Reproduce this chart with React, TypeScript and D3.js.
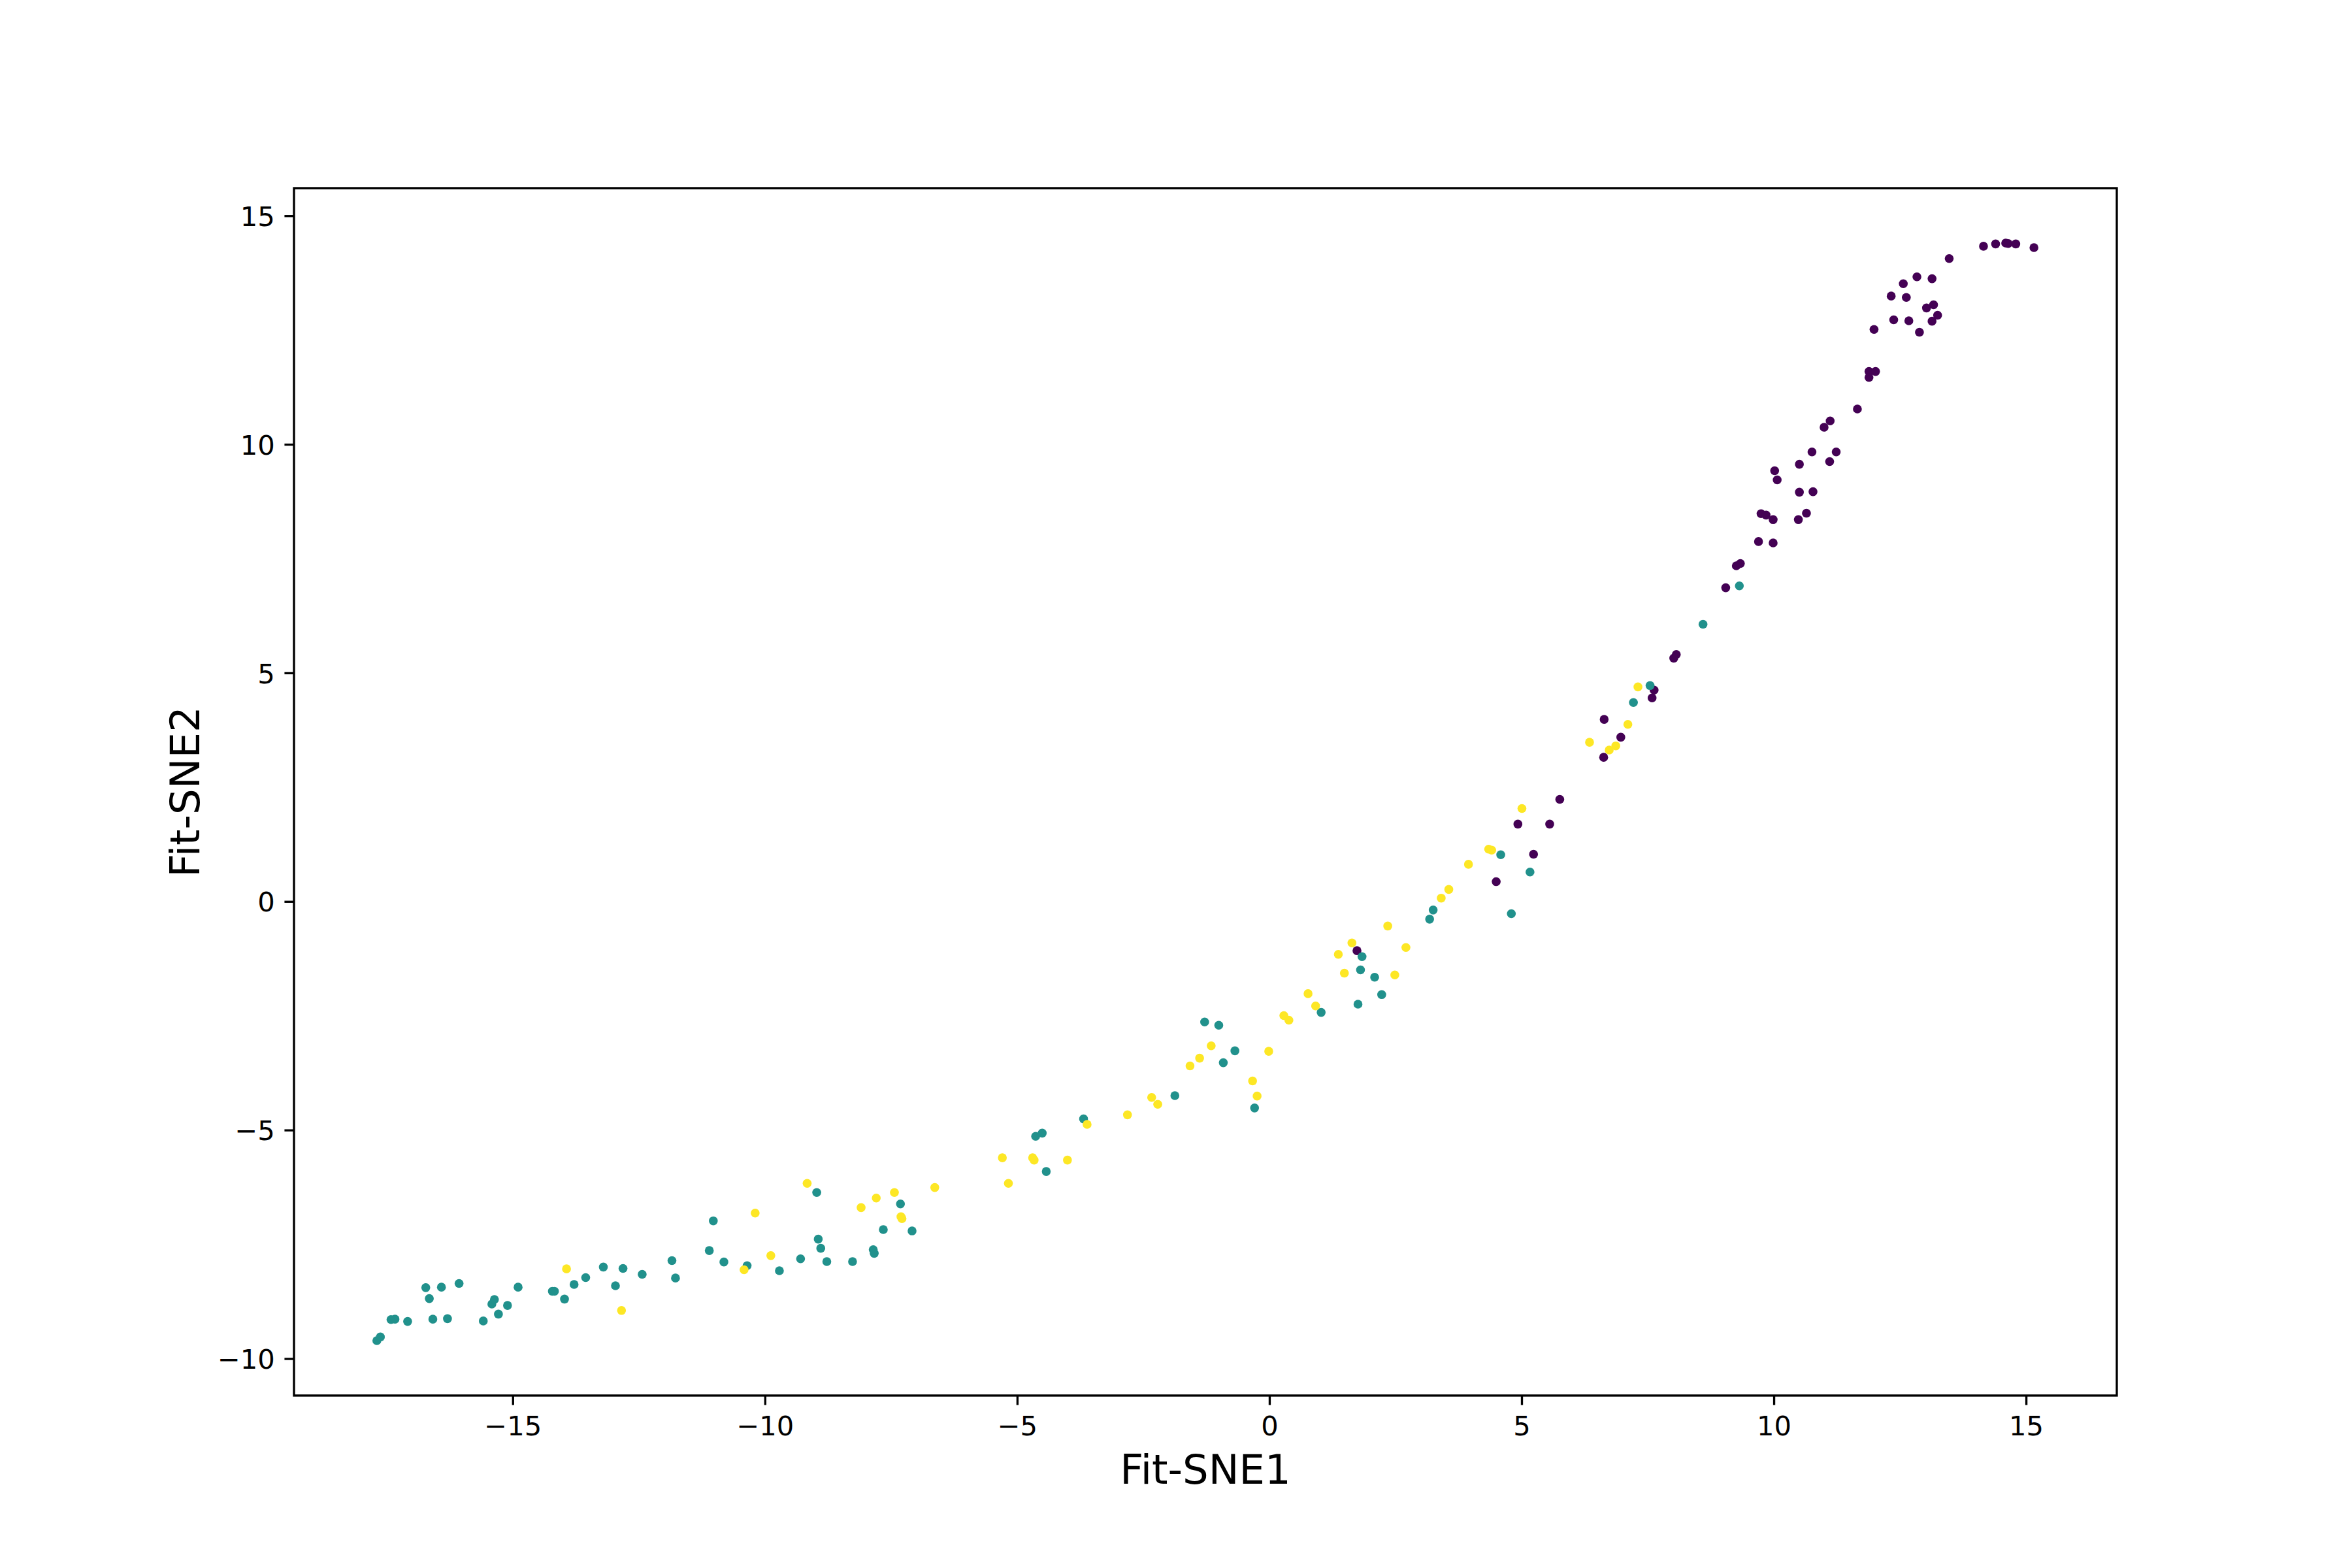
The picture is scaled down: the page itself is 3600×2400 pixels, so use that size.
import React from 'react';
import * as d3 from 'd3';

// Fit-SNE embedding, one array per class
const class0Points: [number, number][] = [
  [4.92, 1.70], [5.55, 1.70], [5.23, 1.04], [4.49, 0.44], [1.73, -1.07],
  [9.25, 7.35], [9.33, 7.40], [9.04, 6.87], [8.06, 5.41], [8.01, 5.33],
  [7.62, 4.63], [7.58, 4.46], [6.63, 3.99], [6.96, 3.60], [6.62, 3.16], [5.75, 2.24],
  [14.15, 14.34], [14.39, 14.39], [14.59, 14.41], [14.64, 14.40], [14.79, 14.39],
  [15.15, 14.31], [13.47, 14.07], [12.83, 13.67], [13.13, 13.63], [12.56, 13.52],
  [12.32, 13.25], [12.62, 13.22], [13.02, 12.99], [13.16, 13.06], [13.24, 12.83],
  [13.13, 12.70], [12.37, 12.73], [12.67, 12.71], [12.88, 12.46], [11.98, 12.52],
  [11.88, 11.60], [12.01, 11.60], [11.88, 11.47], [11.65, 10.78], [11.11, 10.52],
  [10.99, 10.38], [10.75, 9.84], [11.23, 9.84], [11.10, 9.63], [10.50, 9.57],
  [10.01, 9.43], [10.06, 9.23], [10.50, 8.96], [10.77, 8.97], [9.74, 8.49],
  [9.84, 8.46], [9.98, 8.36], [10.64, 8.50], [10.48, 8.36], [9.69, 7.88], [9.98, 7.85],
];

const class1Points: [number, number][] = [
  [-17.70, -9.60], [-17.63, -9.52], [-17.42, -9.14], [-17.34, -9.13], [-17.09, -9.18],
  [-16.73, -8.44], [-16.42, -8.43], [-16.66, -8.68], [-16.07, -8.35], [-16.59, -9.13],
  [-16.30, -9.12], [-15.59, -9.17], [-15.42, -8.80], [-15.37, -8.70], [-15.29, -9.02],
  [-15.11, -8.83], [-14.90, -8.43], [-14.22, -8.52], [-14.18, -8.52], [-13.98, -8.69],
  [-13.79, -8.37], [-13.56, -8.22], [-13.21, -7.99], [-12.82, -8.02], [-12.97, -8.40],
  [-12.44, -8.15], [-11.85, -7.85], [-11.78, -8.23], [-11.11, -7.63], [-11.03, -6.98],
  [-10.82, -7.88], [-10.36, -7.96], [-9.72, -8.07], [-9.30, -7.81], [-8.95, -7.38],
  [-8.90, -7.58], [-8.98, -6.36],
  [-7.32, -6.61], [-7.66, -7.17], [-7.09, -7.20], [-8.78, -7.87], [-8.27, -7.87],
  [-7.86, -7.61], [-7.84, -7.69], [-4.64, -5.13], [-4.51, -5.06], [-4.43, -5.90],
  [-3.69, -4.75], [-1.88, -4.24], [-0.30, -4.51],
  [4.58, 1.03], [5.16, 0.65], [4.79, -0.26], [3.24, -0.18], [3.17, -0.38],
  [1.83, -1.20], [1.80, -1.49], [2.08, -1.65], [2.22, -2.03], [1.75, -2.24],
  [1.02, -2.42], [-1.29, -2.63], [-1.01, -2.70], [-0.69, -3.26], [-0.92, -3.52],
  [9.31, 6.91], [8.59, 6.07], [7.54, 4.73], [7.21, 4.36],
];

const class2Points: [number, number][] = [
  [-13.94, -8.03], [-12.85, -8.94], [-10.42, -8.05], [-10.20, -6.81], [-9.89, -7.74],
  [-9.17, -6.16],
  [-8.10, -6.69], [-7.80, -6.48], [-7.44, -6.36], [-7.31, -6.89], [-7.29, -6.93],
  [-6.64, -6.25], [-5.30, -5.60], [-5.18, -6.16], [-4.70, -5.60], [-4.67, -5.65],
  [-4.01, -5.65], [-3.62, -4.87], [-2.82, -4.66], [-2.34, -4.28], [-2.22, -4.43],
  [-0.34, -3.92], [-0.25, -4.25],
  [4.34, 1.15], [4.40, 1.13], [3.94, 0.82], [3.55, 0.27], [3.40, 0.08],
  [2.34, -0.53], [2.70, -1.00], [1.63, -0.90], [1.36, -1.15], [1.48, -1.56],
  [2.48, -1.60], [0.76, -2.01], [0.91, -2.28], [0.28, -2.49], [0.38, -2.59],
  [-1.16, -3.15], [-1.39, -3.42], [-1.58, -3.59], [-0.02, -3.27],
  [7.30, 4.70], [7.10, 3.88], [6.34, 3.49], [6.86, 3.41], [6.73, 3.32], [5.00, 2.04],
];

const classColors = ['#440154', '#21918c', '#fde725'];
const xTicks = [-15, -10, -5, 0, 5, 10, 15];
const yTicks = [-10, -5, 0, 5, 10, 15];
const xLabel = 'Fit-SNE1';
const yLabel = 'Fit-SNE2';

const W = 3600;
const H = 2400;
const M = { left: 450, right: 3240, top: 288, bottom: 2136 };
const FONT = '"DejaVu Sans", sans-serif';
const LW = 3.333;
const TICK = 14.58;
const PAD = 14.58;
const TICK_FS = 41.67;
const LABEL_FS = 62.5;

function fmt(v: number) {
  return v < 0 ? '\u2212' + Math.abs(v) : String(v);
}

export default function App() {
  const all = [...class0Points, ...class1Points, ...class2Points];
  const [x0, x1] = d3.extent(all, (d) => d[0]) as [number, number];
  const [y0, y1] = d3.extent(all, (d) => d[1]) as [number, number];
  const mx = (x1 - x0) * 0.05;
  const my = (y1 - y0) * 0.05;
  const x = d3.scaleLinear().domain([x0 - mx, x1 + mx]).range([M.left, M.right]);
  const y = d3.scaleLinear().domain([y0 - my, y1 + my]).range([M.bottom, M.top]);

  const groups = [class0Points, class1Points, class2Points];

  return (
    <svg
      width={W}
      height={H}
      viewBox={`0 0 ${W} ${H}`}
      style={{ position: 'absolute', left: 0, top: 0, display: 'block', background: '#fff' }}
    >
      <rect x={0} y={0} width={W} height={H} fill="#fff" />
      {groups.map((pts, gi) => (
        <g key={gi} fill={classColors[gi]}>
          {pts.map((d, i) => (
            <circle key={i} cx={x(d[0])} cy={y(d[1])} r={6.8} />
          ))}
        </g>
      ))}
      <rect
        x={M.left}
        y={M.top}
        width={M.right - M.left}
        height={M.bottom - M.top}
        fill="none"
        stroke="#000"
        strokeWidth={LW}
      />
      {xTicks.map((t) => (
        <g key={'x' + t}>
          <line x1={x(t)} x2={x(t)} y1={M.bottom} y2={M.bottom + TICK} stroke="#000" strokeWidth={LW} />
          <text
            x={x(t)}
            y={M.bottom + TICK + PAD + TICK_FS * 0.76}
            textAnchor="middle"
            fontFamily={FONT}
            fontSize={TICK_FS}
            fill="#000"
          >
            {fmt(t)}
          </text>
        </g>
      ))}
      {yTicks.map((t) => (
        <g key={'y' + t}>
          <line x1={M.left - TICK} x2={M.left} y1={y(t)} y2={y(t)} stroke="#000" strokeWidth={LW} />
          <text
            x={M.left - TICK - PAD}
            y={y(t) + TICK_FS * 0.3645}
            textAnchor="end"
            fontFamily={FONT}
            fontSize={TICK_FS}
            fill="#000"
          >
            {fmt(t)}
          </text>
        </g>
      ))}
      <text
        x={(M.left + M.right) / 2}
        y={2271}
        textAnchor="middle"
        fontFamily={FONT}
        fontSize={LABEL_FS}
        fill="#000"
      >
        {xLabel}
      </text>
      <text
        transform={`translate(305, ${(M.top + M.bottom) / 2}) rotate(-90)`}
        textAnchor="middle"
        fontFamily={FONT}
        fontSize={LABEL_FS}
        fill="#000"
      >
        {yLabel}
      </text>
    </svg>
  );
}
